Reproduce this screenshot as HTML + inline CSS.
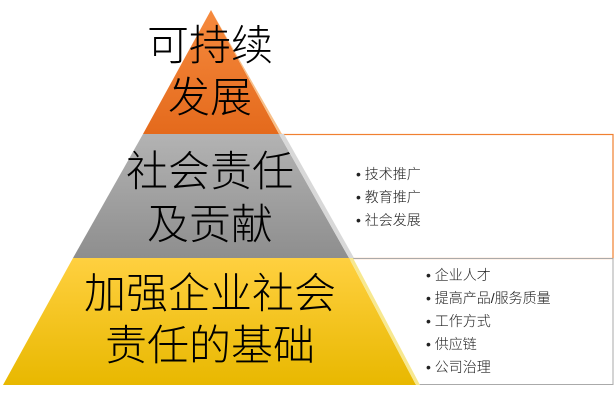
<!DOCTYPE html>
<html><head><meta charset="utf-8"><style>
html,body{margin:0;padding:0;background:#fff;}
body{width:616px;height:407px;position:relative;overflow:hidden;font-family:"Liberation Sans","Noto Sans CJK SC",sans-serif;}
.t{position:absolute;text-align:center;color:#000;line-height:1;font-weight:300;}
.b{position:absolute;font-size:14px;color:#222;line-height:23px;font-weight:300;}
</style></head><body>
<svg width="616" height="407" style="position:absolute;left:0;top:0">
<defs>
<linearGradient id="o" x1="0" y1="0" x2="0" y2="1"><stop offset="0" stop-color="#f68a3e"/><stop offset="1" stop-color="#e46a1c"/></linearGradient>
<linearGradient id="g" x1="0" y1="0" x2="0" y2="1"><stop offset="0" stop-color="#b3b3b3"/><stop offset="1" stop-color="#8e8e8e"/></linearGradient>
<linearGradient id="y" x1="0" y1="0" x2="0" y2="1"><stop offset="0" stop-color="#ffd040"/><stop offset="1" stop-color="#e8b800"/></linearGradient>
</defs>
<rect x="278" y="134.5" width="335" height="124" fill="none" stroke="#f08030" stroke-width="1.2"/>
<rect x="350" y="258.5" width="263" height="126" fill="none" stroke="#aaa" stroke-width="1"/>
<polygon points="211,10 143,134 279,134" fill="url(#o)"/>
<polygon points="211,10 279,134 282,134" fill="#f7c08a"/>
<polygon points="143,134 279,134 349,258 73,258" fill="url(#g)"/>
<polygon points="279,134 284,134 354,258 349,258" fill="#d8d8d8"/>
<polygon points="73,258 349,258 416,385 3,385" fill="url(#y)"/>
<polygon points="349,258 353,258 420,385 416,385" fill="#f7e890"/>
</svg>
<div class="t" style="left:110px;top:20px;width:200px;font-size:42px;line-height:52px;">可持续<br>发展</div>
<div class="t" style="left:60px;top:145px;width:300px;font-size:42px;line-height:53px;">社会责任<br>及贡献</div>
<div class="t" style="left:0px;top:268px;width:420px;font-size:42px;line-height:52px;">加强企业社会<br>责任的基础</div>
<div class="b" style="left:356px;top:163px;">• 技术推广<br>• 教育推广<br>• 社会发展</div>
<div class="b" style="left:426px;top:264px;">• 企业人才<br>• 提高产品/服务质量<br>• 工作方式<br>• 供应链<br>• 公司治理</div>
</body></html>
